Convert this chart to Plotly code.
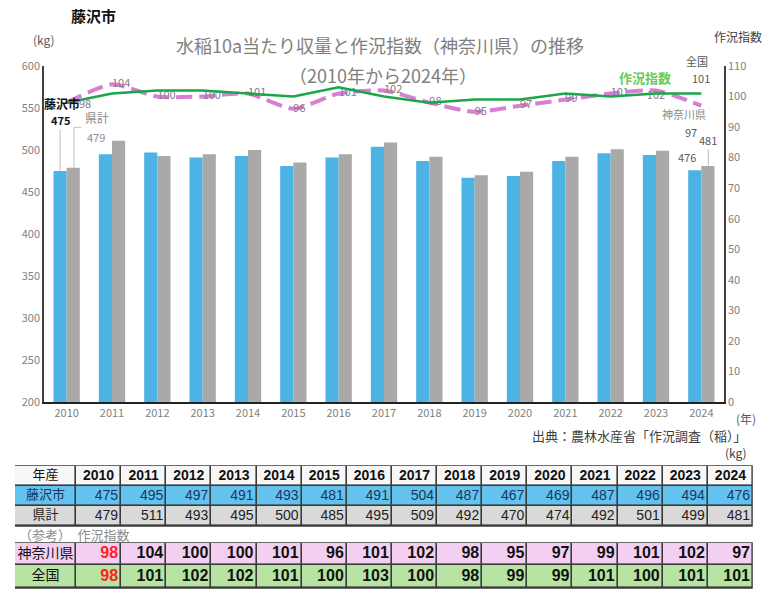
import plotly.graph_objects as go

years = [str(y) for y in range(2010, 2025)]
fujisawa = [475, 495, 497, 491, 493, 481, 491, 504, 487, 467, 469, 487, 496, 494, 476]
kenkei = [479, 511, 493, 495, 500, 485, 495, 509, 492, 470, 474, 492, 501, 499, 481]
kanagawa = [98, 104, 100, 100, 101, 96, 101, 102, 98, 95, 97, 99, 101, 102, 97]
zenkoku = [98, 101, 102, 102, 101, 100, 103, 100, 98, 99, 99, 101, 100, 101, 101]

W, H = 773, 608
ML, MR = 15, 20
PW = W - ML - MR


def px(x):
    return (x - ML) / PW


def py(y):
    return 1 - y / H


JP = "Noto Sans CJK JP"
NUMF = "Liberation Sans Narrow, Arial Narrow, Liberation Sans, Noto Sans CJK JP"
BLUE = "#4cb3e4"
GRAY = "#a9a9a9"
PINK = "#d77fd3"
GREEN = "#1aa64a"

FIRST = 0
LAST = len(years) - 1

fig = go.Figure()
fig.add_trace(go.Bar(x=years, y=fujisawa, name="藤沢市", marker_color=BLUE,
                     marker_line_width=0, hoverinfo="skip"))
fig.add_trace(go.Bar(x=years, y=kenkei, name="県計", marker_color=GRAY,
                     marker_line_width=0, hoverinfo="skip"))

kan_text = [""] + [str(v) for v in kanagawa[1:-1]] + [""]
kan_pos = ["middle right"] * 13 + ["bottom center", "middle right"]
fig.add_trace(go.Scatter(x=years, y=kanagawa, yaxis="y2", mode="lines+text",
                         line=dict(color=PINK, width=4, dash="16px,7px", shape="spline", smoothing=0.6),
                         text=kan_text, textposition=kan_pos,
                         textfont=dict(family=JP, size=11, color="#8a7a8a"),
                         cliponaxis=False, name="神奈川県", hoverinfo="skip"))
fig.add_trace(go.Scatter(x=years, y=zenkoku, yaxis="y2", mode="lines",
                         line=dict(color=GREEN, width=2.5), name="全国", hoverinfo="skip"))

# ---------------- tables (heatmap cells + text on their own axes) ----------------
ncol = len(years)
first_w = 61.0
col_w = (PW - first_w) / ncol
x_edges = [0.0, first_w] + [first_w + col_w * (i + 1) for i in range(ncol)]
x_cent = [(x_edges[i] + x_edges[i + 1]) / 2 for i in range(ncol + 1)]
x_right = [x_edges[i + 1] - 3 for i in range(ncol + 1)]

T_TOP = 464
T_BOT = 592
t1_edges = [2, 22, 42, 62]
t2_edges = [79, 101, 124]
t1_cent = [(t1_edges[i] + t1_edges[i + 1]) / 2 for i in range(3)]
t2_cent = [(t2_edges[i] + t2_edges[i + 1]) / 2 for i in range(2)]

C_HDR, C_FUJI, C_KEN, C_KAN, C_ZEN = "#f7f7f7", "#63c3ee", "#d9d9d9", "#f3d0f1", "#b7e4a2"
cscale = [[0, C_HDR], [0.25, C_FUJI], [0.5, C_KEN], [0.75, C_KAN], [1, C_ZEN]]

fig.add_trace(go.Heatmap(x=x_edges, y=t1_edges,
                         z=[[0] * (ncol + 1), [1] * (ncol + 1), [2] * (ncol + 1)],
                         zmin=0, zmax=4, colorscale=cscale, showscale=False,
                         xgap=1.6, ygap=1.6, hoverinfo="skip",
                         xaxis="x3", yaxis="y3"))
fig.add_trace(go.Heatmap(x=x_edges, y=t2_edges,
                         z=[[3] * (ncol + 1), [4] * (ncol + 1)],
                         zmin=0, zmax=4, colorscale=cscale, showscale=False,
                         xgap=1.6, ygap=1.6, hoverinfo="skip",
                         xaxis="x3", yaxis="y3"))


def text_row(xs, y, texts, size, colors, family, pos):
    fig.add_trace(go.Scatter(x=xs, y=[y] * len(xs), mode="text", text=texts,
                             textposition=pos, cliponaxis=False, hoverinfo="skip",
                             textfont=dict(family=family, size=size, color=colors),
                             xaxis="x3", yaxis="y3"))


text_row([x_cent[0]], t1_cent[0], ["年産"], 13, "#111111", JP, "middle center")
text_row(x_cent[1:], t1_cent[0], [f"<b>{y}</b>" for y in years], 14, "#111111", NUMF, "middle center")
text_row([x_cent[0]], t1_cent[1], ["藤沢市"], 13, "#17375e", JP, "middle center")
text_row(x_right[1:], t1_cent[1], [str(v) for v in fujisawa], 14, "#17375e", NUMF, "middle left")
text_row([x_cent[0]], t1_cent[2], ["県計"], 13, "#222222", JP, "middle center")
text_row(x_right[1:], t1_cent[2], [str(v) for v in kenkei], 14, "#222222", NUMF, "middle left")
red_first = ["#ff2020"] + ["#111111"] * (ncol - 1)
text_row([x_cent[0]], t2_cent[0], ["神奈川県"], 14, "#111111", JP, "middle center")
text_row(x_right[1:], t2_cent[0], [f"<b>{v}</b>" for v in kanagawa], 16, red_first, NUMF, "middle left")
text_row([x_cent[0]], t2_cent[1], ["全国"], 14, "#111111", JP, "middle center")
text_row(x_right[1:], t2_cent[1], [f"<b>{v}</b>" for v in zenkoku], 16, red_first, NUMF, "middle left")

ann = []


def A(text, x, y, size=12, color="#595959", xanchor="center", bold=False, **kw):
    t = f"<b>{text}</b>" if bold else text
    ann.append(dict(text=t, x=px(x), y=py(y), xref="paper", yref="paper",
                    showarrow=False, xanchor=xanchor, yanchor="middle",
                    font=dict(family=JP, size=size, color=color), **kw))


A("藤沢市", 93, 16, size=15, color="#111111", bold=True)
A("(kg)", 44, 40, size=12, color="#595959")
A("水稲10a当たり収量と作況指数（神奈川県）の推移", 380, 45, size=18, color="#7f7f7f")
A("（2010年から2024年）", 383, 75, size=18, color="#7f7f7f")
A("作況指数", 738, 37, size=12, color="#404040")
A("全国", 697, 61, size=11, color="#595959")
A("作況指数", 645, 77, size=13, color="#66cc55", bold=True)
A("神奈川県", 684, 114, size=11, color="#8c8c8c")
A("藤沢市", 62, 103, size=12, color="#111111", bold=True)
A("県計", 97, 118, size=12, color="#8c8c8c")
A("(年)", 746, 418, size=12, color="#595959")
A("出典：農林水産省「作況調査（稲）」", 749, 435, size=13, color="#404040", xanchor="right")
A("(kg)", 736, 452, size=12, color="#404040")
A("（参考）　作況指数", 17, 534, size=13, color="#8c8c8c", xanchor="left")

ann.append(dict(text=str(kanagawa[0]), x=FIRST, y=kanagawa[0], xref="x", yref="y2",
                xshift=18, showarrow=False,
                font=dict(family=JP, size=11, color="#8a7a8a")))
ann.append(dict(text="<b>475</b>", x=FIRST, y=fujisawa[0], xref="x", yref="y",
                xshift=-6.5, showarrow=True, arrowhead=0, arrowwidth=1,
                arrowcolor="#bfbfbf", ax=0, ay=-51,
                font=dict(family=JP, size=11, color="#111111")))
ann.append(dict(text=str(kenkei[0]), x=FIRST, y=kenkei[0], xref="x", yref="y",
                xshift=29, yshift=31, showarrow=False,
                font=dict(family=JP, size=11, color="#8c8c8c")))
ann.append(dict(text=str(kenkei[-1]), x=LAST, y=kenkei[-1], xref="x", yref="y",
                xshift=7, showarrow=True, arrowhead=0, arrowwidth=1,
                arrowcolor="#bfbfbf", ax=0, ay=-26,
                font=dict(family=JP, size=11, color="#595959")))
ann.append(dict(text=str(fujisawa[-1]), x=LAST, y=fujisawa[-1], xref="x", yref="y",
                xshift=-14, yshift=13, showarrow=False,
                font=dict(family=JP, size=11, color="#595959")))
ann.append(dict(text=str(kanagawa[-1]), x=LAST, y=kanagawa[-1], xref="x", yref="y2",
                xshift=-10, yshift=-26, showarrow=False,
                font=dict(family=JP, size=11, color="#595959")))
ann.append(dict(text=str(zenkoku[-1]), x=LAST, y=zenkoku[-1], xref="x", yref="y2",
                xshift=0, yshift=15, showarrow=False,
                font=dict(family=JP, size=11, color="#595959")))

shapes = [
    dict(type="line", xref="paper", yref="y", x0=px(74), x1=px(74), y0=kenkei[0], y1=527,
         line=dict(color="#bfbfbf", width=1)),
    dict(type="line", xref="paper", yref="y", x0=px(74), x1=px(81), y0=527, y1=527,
         line=dict(color="#bfbfbf", width=1)),
    dict(type="rect", xref="x3", yref="y3", x0=-0.8, x1=PW - 0.2, y0=t1_edges[0] - 0.8,
         y1=t1_edges[-1] + 0.8, fillcolor="#3a3a3a", line=dict(width=0), layer="below"),
    dict(type="rect", xref="x3", yref="y3", x0=-0.8, x1=PW - 0.2, y0=t2_edges[0] - 0.8,
         y1=t2_edges[-1] + 0.8, fillcolor="#3a3a3a", line=dict(width=0), layer="below"),
]

fig.update_layout(
    width=W, height=H,
    margin=dict(l=ML, r=MR, t=0, b=0, autoexpand=False),
    paper_bgcolor="white", plot_bgcolor="white",
    showlegend=False,
    barmode="group", bargap=0.42, bargroupgap=0,
    font=dict(family=JP),
    xaxis=dict(domain=[px(44), px(724)], type="category", showgrid=False,
               showline=True, linecolor="#222222", linewidth=2, ticks="",
               range=[-0.5, LAST + 0.5], automargin=False,
               tickfont=dict(family=JP, size=11, color="#7f7f7f")),
    yaxis=dict(domain=[py(402), py(66)], range=[200, 600], dtick=50,
               showgrid=False, showline=True, linecolor="#404040", linewidth=1.5,
               ticks="", zeroline=False, automargin=False,
               tickfont=dict(family=JP, size=11, color="#7f7f7f")),
    yaxis2=dict(overlaying="y", side="right", range=[0, 110], dtick=10,
                showgrid=False, showline=True, linecolor="#404040", linewidth=1.5,
                ticks="", zeroline=False, automargin=False,
                tickfont=dict(family=JP, size=11, color="#7f7f7f")),
    xaxis3=dict(domain=[0, 1], range=[0, PW], visible=False, fixedrange=True,
                automargin=False),
    yaxis3=dict(domain=[py(T_BOT), py(T_TOP)], range=[T_BOT - T_TOP, 0], anchor="x3",
                visible=False, fixedrange=True, automargin=False),
    annotations=ann,
    shapes=shapes,
)

fig.write_html("out.html")
